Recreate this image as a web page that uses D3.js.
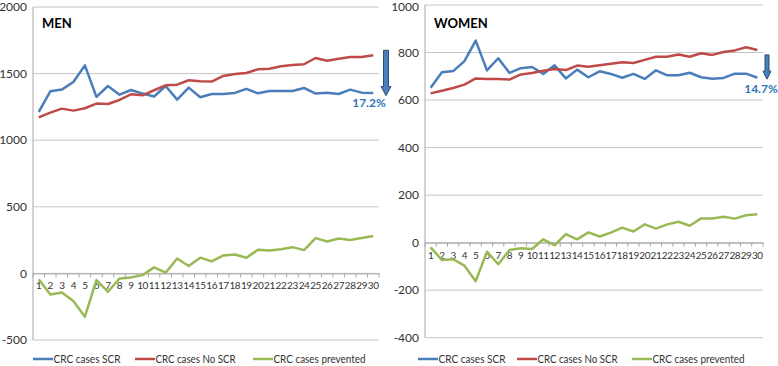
<!DOCTYPE html>
<html>
<head>
<meta charset="utf-8">
<script src="https://cdn.jsdelivr.net/npm/d3@7"></script>
<style>
  body { margin: 0; background: #fff; }
  svg text { font-family: Lato, "Open Sans", sans-serif; }
</style>
</head>
<body>
<svg id="chart" width="778" height="366"></svg>
<script>
// categories 1..30
var years = ["1","2","3","4","5","6","7","8","9","10","11","12","13","14","15",
             "16","17","18","19","20","21","22","23","24","25","26","27","28","29","30"];

var seriesNames = ["CRC cases SCR", "CRC cases No SCR", "CRC cases prevented"];

// MEN
var menScr = [1212,1367,1380,1437,1562,1325,1407,1342,1377,1350,1328,1407,1305,1395,1322,
              1347,1347,1355,1385,1352,1370,1370,1370,1392,1350,1357,1347,1380,1357,1355];
var menNoScr = [1172,1207,1237,1222,1240,1275,1272,1302,1345,1337,1375,1412,1417,1450,1442,
                1440,1482,1497,1505,1532,1537,1555,1565,1570,1617,1597,1612,1625,1625,1637];
var menPrevented = [-43,-158,-143,-208,-325,-50,-138,-38,-30,-13,45,5,112,55,118,
                    90,135,142,117,177,172,182,197,175,265,240,262,250,265,280];
var menTicks = [-500, 0, 500, 1000, 1500, 2000];

// WOMEN
var womenScr = [652,717,722,764,850,725,776,714,734,739,710,746,691,728,696,
                721,710,694,710,689,725,704,704,715,696,690,693,711,711,694];
var womenNoScr = [628,639,651,665,691,689,689,686,708,714,723,731,726,745,740,
                  746,753,759,756,769,782,782,792,782,797,790,802,809,822,811];
var womenPrevented = [-20,-73,-70,-97,-162,-38,-91,-31,-24,-27,14,-11,36,14,43,
                      26,42,63,47,77,59,77,88,71,102,102,109,101,115,119];
var womenTicks = [-400, -200, 0, 200, 400, 600, 800, 1000];

var colors = ["#4a7ebb", "#be4b48", "#98b954"];
var legendWidths = [67, 80, 92];

var svg = d3.select("#chart");

function drawPanel(p) {
    var x = d3.scaleBand().domain(years).range([p.left, p.right]);
    var y = d3.scaleLinear().domain(p.domain).range([p.bottom, p.top]);

    // gridlines
    svg.append("g").selectAll("line")
        .data(p.ticks).enter().append("line")
        .attr("x1", p.left).attr("x2", p.right)
        .attr("y1", function(d) { return y(d); })
        .attr("y2", function(d) { return y(d); })
        .attr("stroke", "#c6c6c6").attr("stroke-width", 1);

    // value axis line
    svg.append("line")
        .attr("x1", p.left).attr("x2", p.left)
        .attr("y1", p.top).attr("y2", p.bottom)
        .attr("stroke", "#a6a6a6");

    // value labels
    svg.append("g").selectAll("text")
        .data(p.ticks).enter().append("text")
        .attr("x", p.left - 6)
        .attr("y", function(d) { return Math.max(y(d), 6.5); })
        .attr("dy", "0.35em")
        .attr("text-anchor", "end")
        .attr("font-size", 12)
        .attr("fill", "#333")
        .text(function(d) { return d; });

    // category axis at zero
    var xAxis = d3.axisBottom(x).tickSize(0).tickPadding(9);
    var gx = svg.append("g")
        .attr("transform", "translate(0," + y(0) + ")")
        .call(xAxis);
    gx.select(".domain").attr("stroke", "#a6a6a6");
    gx.selectAll("text").attr("font-size", 10).attr("fill", "#333")
        .style("font-family", "Lato, sans-serif")
        .style("letter-spacing", "-0.4px");
    // tick marks between categories
    var bounds = years.map(function(d) { return x(d); }).concat([p.right]);
    gx.selectAll("line.tk").data(bounds).enter().append("line")
        .attr("class", "tk")
        .attr("x1", function(d) { return d; }).attr("x2", function(d) { return d; })
        .attr("y1", 0).attr("y2", 4)
        .attr("stroke", "#a6a6a6");

    var line = d3.line()
        .x(function(d, i) { return x(years[i]) + x.bandwidth() / 2; })
        .y(function(d) { return y(d); });

    p.series.forEach(function(s, i) {
        svg.append("path")
            .datum(s)
            .attr("d", line)
            .attr("fill", "none")
            .attr("stroke", colors[i])
            .attr("stroke-width", 2.5)
            .attr("stroke-linejoin", "round");
    });

    // title
    svg.append("text")
        .attr("x", p.left + 9).attr("y", 28)
        .attr("font-size", 13).attr("font-weight", "bold")
        .attr("fill", "#000")
        .text(p.title);

    // arrow annotation
    var ax = p.right + p.arrowDx;
    var y1 = y(p.arrowFrom), y2 = y(p.arrowTo);
    var sw = p.shaft / 2, hw = p.head / 2, hl = p.headLen;
    svg.append("path")
        .attr("d", "M" + (ax - sw) + "," + y1 + "L" + (ax + sw) + "," + y1 +
            "L" + (ax + sw) + "," + (y2 - hl) + "L" + (ax + hw) + "," + (y2 - hl) +
            "L" + ax + "," + y2 + "L" + (ax - hw) + "," + (y2 - hl) +
            "L" + (ax - sw) + "," + (y2 - hl) + "Z")
        .attr("fill", "#4a7ebb").attr("stroke", "#2c4d75").attr("stroke-width", 1);

    svg.append("text")
        .attr("x", p.labelX).attr("y", y2 + p.labelDy)
        .attr("text-anchor", "middle")
        .attr("font-size", 12).attr("font-weight", "bold")
        .attr("fill", "#2e75b6")
        .text(p.label);

    // legend
    var lg = svg.append("g");
    p.legendX.forEach(function(lx, i) {
        lg.append("line")
            .attr("x1", lx).attr("x2", lx + 20)
            .attr("y1", 359).attr("y2", 359)
            .attr("stroke", colors[i]).attr("stroke-width", 2.5);
        lg.append("text")
            .attr("x", lx + 20.5).attr("y", 359).attr("dy", "0.35em")
            .attr("font-size", 12).attr("fill", "#333")
            .attr("textLength", legendWidths[i])
            .attr("lengthAdjust", "spacingAndGlyphs")
            .text(seriesNames[i]);
    });
}

drawPanel({
    title: "MEN",
    left: 33, right: 379, top: 7, bottom: 340,
    domain: [-500, 2000], ticks: menTicks,
    series: [menScr, menNoScr, menPrevented],
    arrowDx: 7, arrowFrom: 1675, arrowTo: 1335, shaft: 5, head: 10, headLen: 9,
    label: "17.2%", labelX: 369, labelDy: 11,
    legendX: [33, 135, 253]
});

drawPanel({
    title: "WOMEN",
    left: 425, right: 763, top: 5, bottom: 337.7,
    domain: [-400, 1000], ticks: womenTicks,
    series: [womenScr, womenNoScr, womenPrevented],
    arrowDx: 4, arrowFrom: 790, arrowTo: 688, shaft: 4, head: 8, headLen: 8,
    label: "14.7%", labelX: 761, labelDy: 14,
    legendX: [418, 517, 632]
});
</script>
</body>
</html>
